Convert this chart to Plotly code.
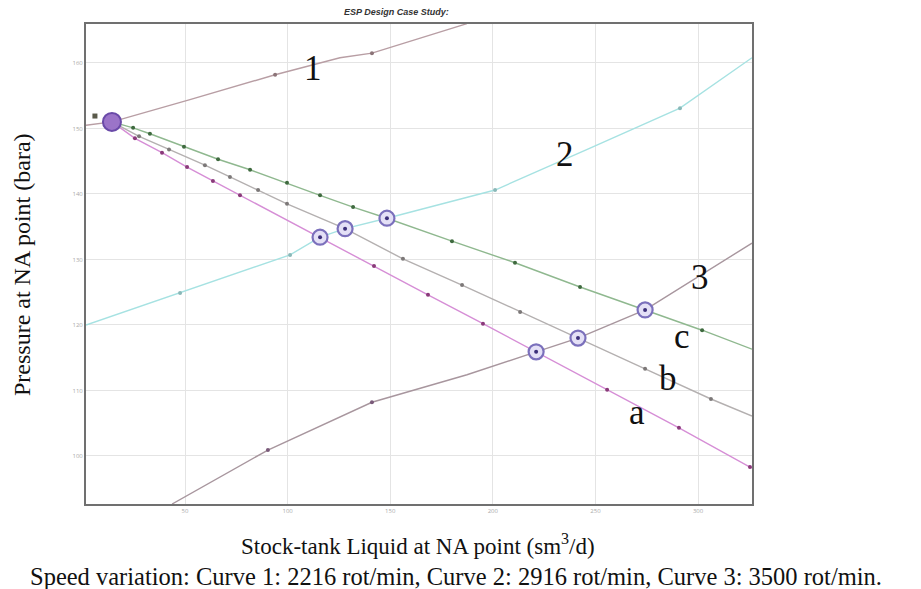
import plotly.graph_objects as go

# ---- data ----
# Curve 1 (2216 rot/min)
c1_x = [1.75, 14.4, 52.4, 93.9, 125.5, 141.1, 187.4]
c1_y = [150.5, 151.0, 154.4, 158.2, 160.8, 161.5, 166.0]
c1_mx = [93.9, 141.1]
c1_my = [158.2, 161.5]
# Curve 2 (2916 rot/min)
c2_x = [1.75, 47.6, 101.2, 115.8, 128.0, 148.4, 201.1, 247.4, 291.2, 326.3]
c2_y = [120.0, 124.9, 130.7, 133.4, 134.7, 136.3, 140.6, 147.0, 153.1, 160.8]
c2_mx = [47.6, 101.2, 201.1, 291.2]
c2_my = [124.9, 130.7, 140.6, 153.1]
# Curve 3 (3500 rot/min)
c3_x = [43.7, 90.4, 141.1, 187.4, 221.1, 241.5, 274.2, 326.3]
c3_y = [92.67, 100.9, 108.2, 112.4, 115.9, 118.0, 122.3, 132.5]
c3_mx = [90.4, 141.1]
c3_my = [100.9, 108.2]
# Curve a
a_x = [14.4, 25.6, 38.8, 51.0, 63.6, 76.8, 90.0, 102.6, 115.8, 142.1, 168.4, 195.2, 221.1, 255.7, 290.7, 325.3, 326.3]
a_y = [151.0, 148.5, 146.3, 144.1, 142.0, 139.8, 137.7, 135.6, 133.4, 129.0, 124.6, 120.2, 115.9, 110.1, 104.3, 98.3, 98.2]
a_mx = [25.6, 38.8, 51.0, 63.6, 76.8, 142.1, 168.4, 195.2, 255.7, 290.7, 325.3]
a_my = [148.5, 146.3, 144.1, 142.0, 139.8, 129.0, 124.6, 120.2, 110.1, 104.3, 98.3]
# Curve b
b_x = [14.4, 27.6, 42.2, 59.7, 71.9, 85.6, 99.7, 128.0, 156.2, 185.0, 213.3, 241.5, 274.2, 306.3, 326.3]
b_y = [151.0, 148.8, 146.8, 144.4, 142.6, 140.6, 138.5, 134.7, 130.1, 126.1, 122.0, 118.0, 113.3, 108.7, 106.1]
b_mx = [27.6, 42.2, 59.7, 71.9, 85.6, 99.7, 156.2, 185.0, 213.3, 274.2, 306.3]
b_my = [148.8, 146.8, 144.4, 142.6, 140.6, 138.5, 130.1, 126.1, 122.0, 113.3, 108.7]
# Curve c
c_x = [14.4, 24.7, 32.9, 49.5, 66.1, 81.7, 99.7, 115.8, 131.9, 148.4, 180.1, 210.8, 242.5, 274.2, 302.0, 326.3]
c_y = [151.0, 150.1, 149.2, 147.2, 145.3, 143.7, 141.7, 139.8, 138.0, 136.3, 132.8, 129.5, 125.8, 122.3, 119.2, 116.3]
c_mx = [24.7, 32.9, 49.5, 66.1, 81.7, 99.7, 115.8, 131.9, 180.1, 210.8, 242.5, 302.0]
c_my = [150.1, 149.2, 147.2, 145.3, 143.7, 141.7, 139.8, 138.0, 132.8, 129.5, 125.8, 119.2]
# Operating points (intersections)
op_x = [115.8, 128.0, 148.4, 221.1, 241.5, 274.2]
op_y = [133.4, 134.7, 136.3, 115.9, 118.0, 122.3]
start_x = [14.4]
start_y = [151.0]
# small square marker near the start
sq_x = [6.1]
sq_y = [151.9]

# Tick labels
x_ticks = [50, 100, 150, 200, 250, 300]
y_ticks = [100, 110, 120, 130, 140, 150, 160]

# Curve labels
lbl_text = ["1", "2", "3", "c", "b", "a"]
lbl_x = [112.4, 235.2, 301.0, 292.2, 285.4, 270.3]
lbl_y = [159.2, 146.0, 127.3, 118.2, 111.9, 106.7]

fig = go.Figure()


def add_curve(x, y, mx, my, lcol, mcol):
    fig.add_trace(go.Scatter(x=x, y=y, mode="lines",
                             line=dict(color=lcol, width=1.4), hoverinfo="skip"))
    fig.add_trace(go.Scatter(x=mx, y=my, mode="markers",
                             marker=dict(color=mcol, size=4), hoverinfo="skip"))


add_curve(c1_x, c1_y, c1_mx, c1_my, "#b89ea4", "#8c7478")
add_curve(c2_x, c2_y, c2_mx, c2_my, "#a6e2e2", "#8ab8b8")
add_curve(c3_x, c3_y, c3_mx, c3_my, "#a8969e", "#7a5a7a")
add_curve(a_x, a_y, a_mx, a_my, "#d68ed6", "#8a3a7a")
add_curve(b_x, b_y, b_mx, b_my, "#b4b0b0", "#7c7878")
add_curve(c_x, c_y, c_mx, c_my, "#8fb88f", "#3f6a3f")

fig.add_trace(go.Scatter(x=sq_x, y=sq_y, mode="markers", hoverinfo="skip",
                         marker=dict(size=5, symbol="square", color="#5a5a4a")))

# operating-point rings
fig.add_trace(go.Scatter(x=op_x, y=op_y, mode="markers", hoverinfo="skip",
                         marker=dict(size=15, color="#e4e0f6",
                                     line=dict(color="#7b70bc", width=2.2))))
fig.add_trace(go.Scatter(x=op_x, y=op_y, mode="markers", hoverinfo="skip",
                         marker=dict(size=4, color="#3c2f7a")))
fig.add_trace(go.Scatter(x=start_x, y=start_y, mode="markers", hoverinfo="skip",
                         marker=dict(size=18, color="#9b74c8",
                                     line=dict(color="#6a4aa8", width=2))))

for t, x, y in zip(lbl_text, lbl_x, lbl_y):
    fig.add_annotation(x=x, y=y, xref="x", yref="y", text=t, showarrow=False,
                       font=dict(family="Liberation Serif", size=35, color="#111"))

fig.add_annotation(x=0.4985, y=-0.085, xref="paper", yref="paper",
                   text="Stock-tank Liquid at NA point (sm<sup>3</sup>/d)",
                   showarrow=False, yanchor="middle",
                   font=dict(family="Liberation Serif", size=23, color="#111"))
fig.add_annotation(x=0.555, y=-0.152, xref="paper", yref="paper",
                   text="Speed variation: Curve 1: 2216 rot/min, Curve 2: 2916 rot/min, Curve 3: 3500 rot/min.",
                   showarrow=False, yanchor="middle",
                   font=dict(family="Liberation Serif", size=24.5, color="#111"))
fig.add_annotation(x=-0.096, y=0.498, xref="paper", yref="paper",
                   text="Pressure at NA point (bara)", textangle=-90,
                   showarrow=False, xanchor="center", yanchor="middle",
                   font=dict(family="Liberation Serif", size=24, color="#111"))
fig.add_annotation(x=0.4655, y=1.025, xref="paper", yref="paper",
                   text="<b><i>ESP Design Case Study:</i></b>", showarrow=False,
                   font=dict(family="Liberation Sans", size=9, color="#333"),
                   yanchor="middle")

fig.update_layout(
    width=921, height=589,
    margin=dict(l=78, r=177, t=16, b=93),
    paper_bgcolor="white", plot_bgcolor="white",
    showlegend=False,
    xaxis=dict(range=[1.75, 326.3], tickvals=x_ticks, ticktext=[str(v) for v in x_ticks],
               showgrid=True, gridcolor="#e4e4e4", gridwidth=1, zeroline=False,
               showline=True, linecolor="#707070", linewidth=2, mirror=True,
               ticks="", tickfont=dict(size=6, color="#aaaaaa")),
    yaxis=dict(range=[92.67, 165.95], tickvals=y_ticks, ticktext=[str(v) for v in y_ticks],
               showgrid=True, gridcolor="#e4e4e4", gridwidth=1, zeroline=False,
               showline=True, linecolor="#707070", linewidth=2, mirror=True,
               ticks="", tickfont=dict(size=6, color="#aaaaaa")),
)

fig.write_html("out.html")
